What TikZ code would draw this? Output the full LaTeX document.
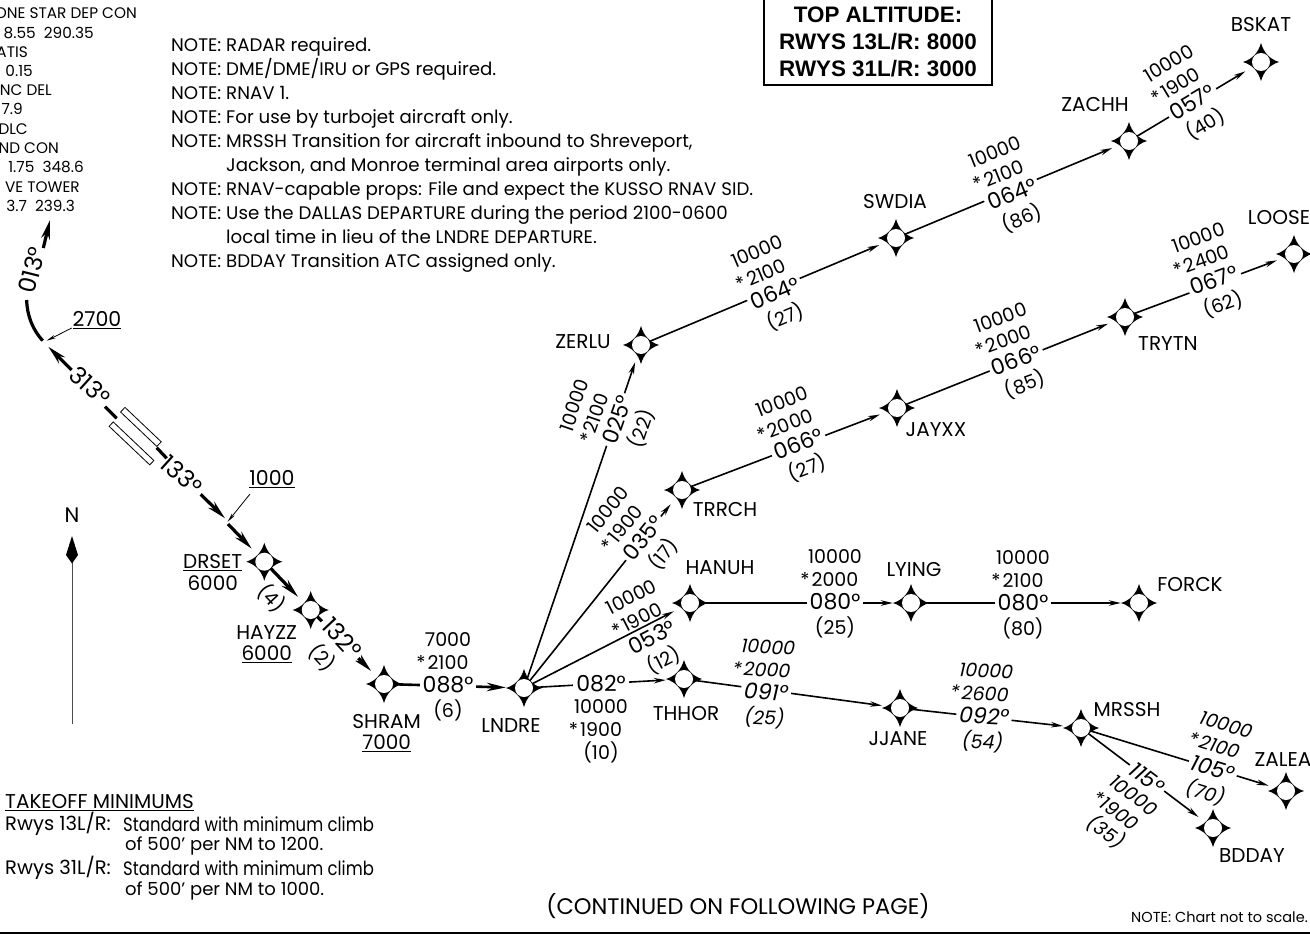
\documentclass[tikz,border=0pt]{standalone}
\usepackage{fontspec}
\setmainfont{Poppins}
\newfontfamily\narrowf{Poppins}[FakeStretch=0.85]
\newfontfamily\boxfont{Liberation Sans}
\usetikzlibrary{arrows.meta}
\newcommand{\fsz}[2]{\fontsize{#1}{#2}\selectfont}
\newcommand{\st}{\llap{*\hspace{2pt}}}
\tikzset{
  wp/.style={circle,fill=white,minimum size=18pt,inner sep=0pt},
  txt/.style={inner sep=0pt,font=\fsz{20}{22}},
  leg/.style={line width=1.6pt,shorten >=9pt,-{Stealth[length=12pt,width=5.5pt]}},
  heavy/.style={line width=3.2pt,shorten >=9pt,-{Stealth[length=19pt,width=8.5pt]}},
  thinarrow/.style={line width=.8pt,-{Stealth[length=9pt,width=3.5pt]}},
  coursetxt/.style={inner sep=0pt,outer sep=0pt,fill=white,inner xsep=3pt,font=\fsz{22}{24}},
  blocktxt/.style={inner sep=0pt,align=center,font=\fsz{19}{23}},
}
\newcommand{\wpt}[3]{%
  \fill[shift={(#2,#3)}] (18,0) .. controls (8.9,2.9) and (2.9,8.9) .. (0,19)
    .. controls (-2.9,8.9) and (-8.9,2.9) .. (-18,0)
    .. controls (-8.9,-2.9) and (-2.9,-8.9) .. (0,-19)
    .. controls (2.9,-8.9) and (8.9,-2.9) .. (18,0) -- cycle;
  \node[wp] (#1) at (#2,#3) {};}
% name, x, y, rotation, above, course, below
\newcommand{\seg}[7]{%
  \begin{scope}[shift={(#2,#3)},rotate=#4,transform shape]
    \node[coursetxt] (#1c) at (0,0) {#6};
    \node[blocktxt,anchor=south] (#1a) at (0,-15) {#5};
    \node[blocktxt,anchor=north] (#1b) at (0,15) {#7};
  \end{scope}}
\begin{document}
\begin{tikzpicture}[x=1pt,y=-1pt]
\useasboundingbox (0,0) rectangle (1310,934);
% frequency lines
\foreach \nm/\t/\ex/\yy in {f1/ONE STAR DEP CON/137/13,f2/8.55\ \ 290.35/94/33,f3/ATIS/28/52,f4/0.15/33/71,f5/NC DEL/52/90,f6/7.9/23/109,f7/DLC/28/129,f8/ND CON/59/148,f9/1.75\ \ 348.6/84/167,f10/VE TOWER/80/187,f11/3.7\ \ 239.3/75/206}
  \node[txt,font=\fsz{15.3}{20},anchor=east] (\nm) at (\ex,\yy) {\t};
% notes
\node[txt,anchor=north west,align=left,font=\fsz{18.2}{24.1}] (notes) at (171,37) {%
NOTE: RADAR required.\\
NOTE: DME/DME/IRU or GPS required.\\
NOTE: RNAV 1.\\
NOTE: For use by turbojet aircraft only.\\
NOTE: MRSSH Transition for aircraft inbound to Shreveport,\\
\phantom{NOTE: }Jackson, and Monroe terminal area airports only.\\
NOTE: RNAV-capable props: File and expect the KUSSO RNAV SID.\\
NOTE: Use the DALLAS DEPARTURE during the period 2100-0600\\
\phantom{NOTE: }local time in lieu of the LNDRE DEPARTURE.\\
NOTE: BDDAY Transition ATC assigned only.};
% top altitude box
\node[draw,line width=2pt,minimum width=228pt,minimum height=87pt,inner sep=0pt,align=center,font=\boxfont\bfseries\fsz{22.4}{27}] (topalt) at (878,41.5) {TOP ALTITUDE:\\RWYS 13L/R: 8000\\RWYS 31L/R: 3000};
% north
\node[txt,font=\fsz{21}{22}] (north) at (72,515) {N};
\coordinate (nbase) at (72,724);
\coordinate (ntop) at (72,560);
\draw[line width=.8pt,black!70] (nbase) -- (ntop);
\fill (72,536) -- (78,555) -- (72,563.5) -- (66,555) -- cycle;
% waypoints
\wpt{drset}{264.3}{561.7}
\wpt{hayzz}{310.7}{610}
\wpt{shram}{384}{684}
\wpt{lndre}{524}{688}
\wpt{thhor}{684}{679}
\wpt{hanuh}{690}{603}
\wpt{trrch}{682}{490}
\wpt{zerlu}{641}{345}
\wpt{swdia}{896}{238}
\wpt{zachh}{1129}{141}
\wpt{bskat}{1261}{62}
\wpt{jayxx}{897}{408}
\wpt{trytn}{1125}{317}
\wpt{loose}{1294}{254}
\wpt{lying}{911}{603}
\wpt{forck}{1139}{603}
\wpt{jjane}{900}{708}
\wpt{mrssh}{1081}{728}
\wpt{zalea}{1286}{791}
\wpt{bdday}{1213}{828}
% legs
\draw[heavy] (drset) -- (hayzz);
\draw[heavy] (hayzz) -- (shram);
\draw[heavy,line width=2.6pt] (shram) -- (lndre);
\draw[leg] (lndre) -- (zerlu);
\draw[leg] (lndre) -- (trrch);
\draw[leg] (lndre) -- (hanuh);
\draw[leg] (lndre) -- (thhor);
\draw[leg] (thhor) -- (jjane);
\draw[leg] (jjane) -- (mrssh);
\draw[leg] (mrssh) -- (zalea);
\draw[leg] (mrssh) -- (bdday);
\draw[leg] (hanuh) -- (lying);
\draw[leg] (lying) -- (forck);
\draw[leg] (zerlu) -- (swdia);
\draw[leg] (swdia) -- (zachh);
\draw[leg] (zachh) -- (bskat);
\draw[leg] (trrch) -- (jayxx);
\draw[leg] (jayxx) -- (trytn);
\draw[leg] (trytn) -- (loose);
% departure path
\coordinate (a1) at (71.7,370); \coordinate (a2) at (48.3,346.7);
\coordinate (b1) at (42.7,340.7); \coordinate (b2) at (26.7,300);
\coordinate (c1) at (43.3,248); \coordinate (c2) at (50,220);
\coordinate (d1) at (105,406.7); \coordinate (d2) at (116.7,418.3);
\coordinate (e1) at (156.7,447.7); \coordinate (e2) at (166.7,458.3);
\coordinate (g1) at (200.7,494.3); \coordinate (g2) at (225,518.3);
\coordinate (h1) at (228,524);
\draw[heavy,shorten >=0pt] (a1) -- (a2);
\draw[line width=3.2pt] (b1) .. controls (33,330) and (27,316) .. (b2);
\draw[heavy,shorten >=0pt] (c1) -- (c2);
\draw[line width=3.2pt] (d1) -- (d2);
\draw[line width=3.2pt] (e1) -- (e2);
\draw[heavy,shorten >=0pt] (g1) -- (g2);
\draw[heavy] (h1) -- (drset);
\node[draw,line width=.8pt,fill=white,minimum width=50pt,minimum height=6.4pt,inner sep=0pt,rotate=-43.5] (rwa) at (140.9,426.9) {};
\node[draw,line width=.8pt,fill=white,minimum width=56pt,minimum height=6pt,inner sep=0pt,rotate=-43.5] (rwb) at (131.5,443.4) {};
\node[coursetxt,fill=none,font=\fsz{24}{26},rotate=-42] (c313) at (90,386) {313°};
\node[coursetxt,fill=none,font=\fsz{24}{26},rotate=-42] (c133) at (181.7,475) {133°};
\node[coursetxt,fill=none,font=\fsz{24}{26},rotate=76] (c013) at (31.7,270) {013°};
% altitude callouts
\node[txt,font=\fsz{20.5}{22}] (a2700) at (97,320) {\underline{2700}};
\node[txt,font=\fsz{20.5}{22}] (a1000) at (272,479.3) {\underline{1000}};
\coordinate (p2700) at (71.7,328); \coordinate (q2700) at (46.7,340.7);
\coordinate (p1000) at (250,494); \coordinate (q1000) at (227.7,521.7);
\draw[thinarrow] (p2700) -- (q2700);
\draw[thinarrow] (p1000) -- (q1000);
% waypoint names
\node[txt] (ldrset) at (212.7,563) {\underline{DRSET}};
\node[txt] (adrset) at (212.7,583) {6000};
\node[txt] (lhayzz) at (266.7,633) {HAYZZ};
\node[txt] (ahayzz) at (266.7,654) {\underline{6000}};
\node[txt] (lshram) at (386.7,722) {SHRAM};
\node[txt] (ashram) at (386.7,743) {\underline{7000}};
\node[txt] (llndre) at (511,726) {LNDRE};
\node[txt] (lthhor) at (686,714) {THHOR};
\node[txt] (lhanuh) at (720,568) {HANUH};
\node[txt] (ltrrch) at (725,509) {TRRCH};
\node[txt] (lzerlu) at (583,342) {ZERLU};
\node[txt] (lswdia) at (895,202) {SWDIA};
\node[txt] (lzachh) at (1095,104) {ZACHH};
\node[txt] (lbskat) at (1261,25) {BSKAT};
\node[txt] (ljayxx) at (936,430) {JAYXX};
\node[txt] (ltrytn) at (1168,344) {TRYTN};
\node[txt] (lloose) at (1279,218) {LOOSE};
\node[txt] (llying) at (914,570) {LYING};
\node[txt] (lforck) at (1190,585) {FORCK};
\node[txt] (ljjane) at (898,739) {JJANE};
\node[txt] (lmrssh) at (1127,710) {MRSSH};
\node[txt] (lzalea) at (1283,760) {ZALEA};
\node[txt] (lbdday) at (1252,856) {BDDAY};
% leg labels
\seg{s1}{342}{638}{-47}{}{\fsz{24}{26}132°}{}
\node[blocktxt,rotate=-47] (s1p) at (322,658) {(2)};
\node[blocktxt,rotate=-47] (s0p) at (272,598) {(4)};
\seg{s2}{448}{685}{0}{7000\\\st 2100}{088°}{(6)}
\seg{s3}{601}{684}{0}{}{082°}{10000\\\st 1900\\(10)}
\seg{s4}{766}{692}{-3}{\itshape 10000\\\itshape \st 2000}{\itshape 091°}{\itshape (25)}
\seg{s5}{984}{716}{-3}{\itshape 10000\\\itshape \st 2600}{\itshape 092°}{\itshape (54)}
\seg{s6}{1213}{768}{-17}{\itshape 10000\\\itshape \st 2100}{\itshape 105°}{\itshape (70)}
\seg{s7}{1147}{778}{-37}{}{\itshape 115°}{\itshape 10000\\\itshape \st 1900\\\itshape (35)}
\seg{s8}{835}{602}{0}{10000\\\st 2000}{080°}{(25)}
\seg{s9}{1023}{603}{0}{10000\\\st 2100}{080°}{(80)}
\seg{s10}{617}{420}{71}{10000\\\st 2100}{025°}{(22)}
\seg{s11}{643}{538}{51}{10000\\\st 1900}{035°}{(17)}
\begin{scope}[shift={(652,637)},rotate=27,transform shape]
  \node[coursetxt,fill=none] (s12c) at (0,0) {053°};
  \node[blocktxt,anchor=south] (s12a) at (0,-15) {10000\\\st 1900};
  \node[blocktxt,anchor=north] (s12b) at (0,15) {(12)};
\end{scope}
\seg{s13}{798}{444}{21}{10000\\\st 2000}{066°}{(27)}
\seg{s14}{1016}{360}{20}{10000\\\st 2000}{066°}{(85)}
\seg{s15}{1214}{280}{20}{10000\\\st 2400}{067°}{(62)}
\seg{s16}{775}{293}{23}{10000\\\st 2100}{064°}{(27)}
\seg{s17}{1012}{194}{22}{10000\\\st 2100}{064°}{(86)}
\seg{s18}{1192}{102}{31}{10000\\\st 1900}{057°}{(40)}
% takeoff minimums
\node[txt,anchor=west] (tk0) at (5,803) {\underline{TAKEOFF MINIMUMS}};
\node[txt,anchor=west,font=\fsz{19.5}{22}] (tk1) at (5,824) {Rwys 13L/R:};
\node[txt,anchor=west,font=\narrowf\fsz{19.4}{22}] (tk2) at (123,824) {Standard with minimum climb};
\node[txt,anchor=west,font=\fsz{18}{22}] (tk3) at (125,846) {of 500' per NM to 1200.};
\node[txt,anchor=west,font=\fsz{19.5}{22}] (tk4) at (5,868) {Rwys 31L/R:};
\node[txt,anchor=west,font=\narrowf\fsz{19.4}{22}] (tk5) at (123,868) {Standard with minimum climb};
\node[txt,anchor=west,font=\fsz{18}{22}] (tk6) at (125,891) {of 500' per NM to 1000.};
% footer
\node[txt,font=\fsz{22.5}{24}] (cont) at (738,906) {(CONTINUED ON FOLLOWING PAGE)};
\node[txt,font=\fsz{14.5}{18},anchor=east] (scale) at (1308,917) {NOTE: Chart not to scale.};
\coordinate (r1) at (0,933); \coordinate (r2) at (1310,933);
\draw[line width=2pt] (r1) -- (r2);
\end{tikzpicture}
\end{document}
